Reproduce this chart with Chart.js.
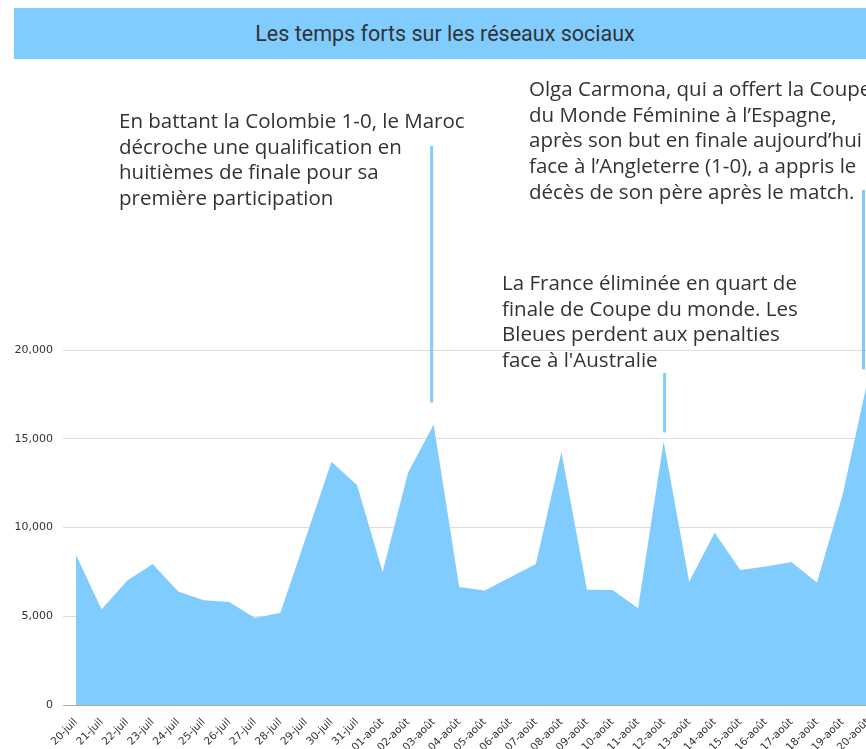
<!DOCTYPE html>
<html><head><meta charset="utf-8">
<script src="https://cdn.jsdelivr.net/npm/chart.js@4.4.0/dist/chart.umd.min.js"></script>
<style>
html,body{margin:0;padding:0;background:#fff;overflow:hidden;width:866px;height:749px;}
#wrap{position:absolute;left:0;top:0;width:870px;height:749px;}
#title{position:absolute;left:14px;top:8px;width:862px;height:51px;background:#80CCFF;color:#333;font:21.5px Roboto, sans-serif;display:flex;align-items:center;justify-content:center;z-index:2;}
</style></head>
<body>
<div id="title">Les temps forts sur les réseaux sociaux</div>
<div id="wrap"><canvas id="c"></canvas></div>
<script>
const categories = ['20-juil','21-juil','22-juil','23-juil','24-juil','25-juil','26-juil','27-juil','28-juil','29-juil','30-juil','31-juil',
  '01-août','02-août','03-août','04-août','05-août','06-août','07-août','08-août','09-août','10-août','11-août','12-août',
  '13-août','14-août','15-août','16-août','17-août','18-août','19-août','20-août'];
const values = [8450, 5400, 7000, 7950, 6400, 5900, 5800, 4900, 5200, 9450, 13700, 12400,
  7500, 13100, 15800, 6650, 6450, 7200, 7950, 14250, 6500, 6480, 5450, 14850,
  6950, 9700, 7600, 7800, 8050, 6900, 11800, 18400];
const yTicks = [0, 5000, 10000, 15000, 20000];

const annotationDates = ['03-août', '12-août', '20-août'];
const annotationTexts = [
  ['En battant la Colombie 1-0, le Maroc', 'décroche une qualification en', 'huitièmes de finale pour sa', 'première participation'],
  ['La France éliminée en quart de', 'finale de Coupe du monde. Les', 'Bleues perdent aux penalties', "face à l'Australie"],
  ['Olga Carmona, qui a offert la Coupe', 'du Monde Féminine à l’Espagne,', 'après son but en finale aujourd’hui', 'face à l’Angleterre (1-0), a appris le', 'décès de son père après le match.']
];
// layout of annotations (pixels)
const annotationLayout = [
  {textX: 119, textY: 128, lineTop: 146, gap: 22, dx: -2},
  {textX: 502, textY: 290, lineTop: 373, gap: 9, dx: 1},
  {textX: 529, textY: 96, lineTop: 190, gap: 9, dx: -4.5}
];

const BLUE = '#80CCFF';

const annotPlugin = {
  id: 'annots',
  afterDatasetsDraw(chart) {
    const ctx = chart.ctx, xs = chart.scales.x, ys = chart.scales.y;
    annotationDates.forEach((d, k) => {
      const idx = categories.indexOf(d);
      const L = annotationLayout[k];
      const px = xs.getPixelForValue(idx) + L.dx;
      const py = ys.getPixelForValue(values[idx]);
      ctx.save();
      ctx.strokeStyle = BLUE; ctx.lineWidth = 3;
      ctx.beginPath(); ctx.moveTo(px, L.lineTop); ctx.lineTo(px, py - L.gap); ctx.stroke();
      ctx.fillStyle = '#333'; ctx.font = '20.5px "Open Sans"';
      ctx.textAlign = 'left'; ctx.textBaseline = 'alphabetic';
      annotationTexts[k].forEach((t, i) => ctx.fillText(t, L.textX, L.textY + i * 25.7));
      ctx.restore();
    });
  }
};

new Chart(document.getElementById('c'), {
  type: 'line',
  data: {
    labels: categories,
    datasets: [{
      data: values,
      fill: 'origin',
      backgroundColor: BLUE,
      borderColor: BLUE,
      borderWidth: 0,
      pointRadius: 0,
      tension: 0
    }]
  },
  options: {
    responsive: true,
    maintainAspectRatio: false,
    devicePixelRatio: 1,
    animation: false,
    locale: 'en-US',
    layout: {padding: {top: 66, left: 0, right: 2, bottom: 0}},
    plugins: {legend: {display: false}, tooltip: {enabled: false}, title: {display: false}},
    scales: {
      x: {
        grid: {display: false},
        border: {display: false},
        ticks: {autoSkip: false, maxRotation: 45, minRotation: 45, padding: 3,
          color: '#333', font: {family: 'DejaVu Sans', size: 10.5}},
        afterFit(s) { s.height = 44; s.paddingLeft = 0; s.paddingRight = 0; }
      },
      y: {
        min: 0, max: 36000,
        border: {display: false},
        grid: {
          color: c => (c.tick && c.tick.value === 0) ? '#aaaaaa' : '#dddddd',
          lineWidth: 1, tickLength: 13, drawTicks: true
        },
        ticks: {stepSize: 5000, padding: 10, color: '#333', font: {family: 'DejaVu Sans', size: 11}},
        afterBuildTicks(s) { s.ticks = yTicks.map(v => ({value: v})); },
        afterFit(s) { s.width = 76; s.paddingTop = 0; s.paddingBottom = 0; }
      }
    }
  },
  plugins: [annotPlugin]
});
</script>
</body></html>
